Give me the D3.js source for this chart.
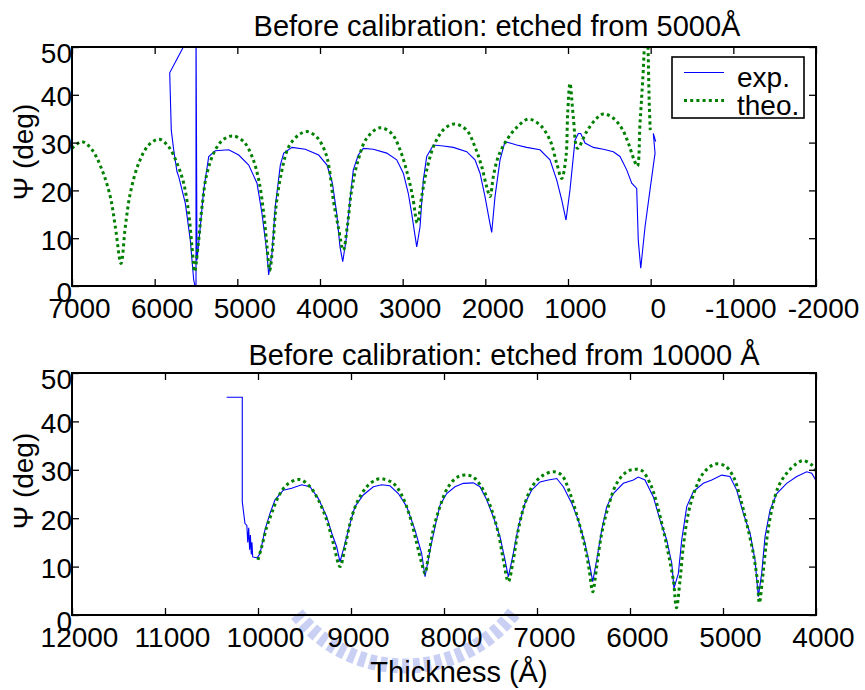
<!DOCTYPE html>
<html>
<head>
<meta charset="utf-8">
<script src="https://cdn.jsdelivr.net/npm/d3@7"></script>
<style>
  body { margin: 0; background: #fff; }
  svg { display: block; }
</style>
</head>
<body>
<script>
// Psi vs thickness, before calibration, two etch runs

// ---- top panel: etched from 5000 A ----
var topExpThk = [5470, 5818, 5799, 5770, 5730, 5709, 5629, 5569, 5528, 5500, 5500, 5488, 5448, 5407, 5346, 5266, 5104, 4983, 4862, 4762,
  4702, 4641, 4621, 4581, 4541, 4480, 4439, 4339, 4178, 4016, 3915, 3850, 3798, 3758, 3725, 3685, 3637, 3597, 3537, 3476,
  3355, 3193, 3072, 2992, 2932, 2891, 2830, 2790, 2750, 2709, 2629, 2508, 2387, 2225, 2125, 2064, 2004, 1952, 1923, 1883,
  1822, 1762, 1702, 1620, 1500, 1339, 1218, 1137, 1076, 1024, 976, 915, 875, 846, 794, 694, 573, 452, 371, 290,
  229, 169, 150, 120, 68, 8, -53, -32, -61];
var topExpPsi = [56, 44.6, 32.6, 28.5, 23.9, 22.9, 17.3, 9.6, 1.3, -1, 56, 5.4, 12.4, 20.1, 27.1, 28.3, 28.5, 27.4, 25.3, 21.5,
  15.2, 6.8, 2.3, 6.8, 16.6, 25.3, 27.8, 29.0, 28.6, 27.4, 25.3, 21.5, 15.2, 8.2, 5.1, 9.6, 18.0, 24.3, 27.4, 28.8,
  28.6, 27.8, 26.4, 23.6, 19.4, 15.2, 8.2, 12.4, 22.2, 27.1, 29.5, 29.3, 29.0, 28.1, 26.4, 23.6, 18.7, 13.8, 11.2, 18.7,
  26.4, 30.2, 29.9, 29.5, 29.0, 28.5, 26.4, 22.2, 18.0, 13.8, 20.1, 30.5, 31.9, 31.9, 29.9, 29.0, 28.6, 28.1, 27.1, 24.3,
  21.5, 20.4, 9.6, 3.7, 12.4, 20.1, 27.8, 31.9, 30.2];

var topTheoThk = [7000, 6879, 6758, 6637, 6537, 6476, 6407, 6355, 6295, 6193, 6072, 5944, 5830, 5730, 5649, 5588, 5548, 5516, 5476, 5427,
  5367, 5266, 5165, 5052, 4923, 4822, 4741, 4681, 4641, 4609, 4572, 4532, 4468, 4379, 4258, 4157, 4036, 3936, 3890, 3839,
  3779, 3718, 3670, 3617, 3537, 3435, 3274, 3133, 3032, 2944, 2879, 2823, 2770, 2709, 2609, 2488, 2367, 2226, 2125, 2044,
  1984, 1943, 1903, 1843, 1742, 1620, 1480, 1339, 1218, 1137, 1076, 1024, 1004, 976, 936, 885, 774, 673, 573, 452,
  350, 270, 201, 161, 129, 96, 50, 16, 5];
var topTheoPsi = [28.8, 30.2, 28.5, 24.3, 18.7, 12.4, 4.7, 12.4, 19.4, 25.7, 29.5, 30.7, 29.1, 25.7, 21.5, 15.2, 8.2, 3.0, 8.2, 16.6,
  23.6, 28.5, 30.7, 31.4, 30.2, 27.1, 22.2, 15.2, 8.2, 3.3, 8.2, 16.6, 23.6, 29.1, 31.6, 32.3, 31.1, 28.0, 24.8, 18.0,
  12.4, 7.5, 12.4, 20.1, 26.4, 30.9, 33.1, 31.9, 28.5, 23.6, 18.7, 13.2, 18.7, 24.3, 29.9, 33.0, 33.9, 32.6, 29.1, 25.0,
  20.8, 18.7, 22.9, 27.1, 30.5, 33.2, 34.9, 33.7, 30.5, 25.7, 22.5, 27.1, 36.1, 42.4, 35.4, 28.8, 32.3, 34.7, 36.0, 35.1,
  33.0, 29.9, 26.4, 25.1, 34.0, 43.1, 57, 37.5, 32.6];

var topXTicks = [7000, 6000, 5000, 4000, 3000, 2000, 1000, 0, -1000, -2000];

// ---- bottom panel: etched from 10000 A ----
var botExpThk = [10337, 10169, 10169, 10140, 10120, 10110, 10100, 10090, 10082, 10072, 10065, 10057, 10010, 9978, 9925, 9871, 9817, 9728, 9638, 9530,
  9441, 9352, 9261, 9207, 9154, 9118, 9064, 9011, 8957, 8868, 8760, 8670, 8581, 8491, 8401, 8312, 8240, 8204, 8150, 8097,
  8043, 7971, 7882, 7792, 7685, 7613, 7541, 7470, 7398, 7344, 7308, 7255, 7201, 7129, 7057, 6968, 6878, 6788, 6717, 6627,
  6556, 6484, 6430, 6401, 6358, 6304, 6250, 6179, 6072, 5964, 5911, 5839, 5749, 5677, 5605, 5551, 5527, 5480, 5444, 5390,
  5319, 5212, 5121, 5014, 4925, 4853, 4781, 4709, 4656, 4620, 4584, 4548, 4494, 4422, 4315, 4207, 4100, 4046, 3992];
var botExpPsi = [45.0, 45.0, 23.4, 18.9, 18.5, 15.0, 18.0, 13.5, 16.5, 12.5, 15.0, 12.0, 11.8, 12.7, 17.6, 21.0, 23.8, 25.8, 26.2, 26.9,
  26.5, 24.1, 20.3, 16.9, 14.1, 11.0, 14.8, 18.9, 22.4, 24.8, 26.5, 26.9, 26.7, 25.1, 22.4, 17.6, 12.7, 7.9, 13.4, 18.2,
  22.7, 25.1, 26.5, 27.2, 27.3, 26.5, 23.8, 20.3, 16.2, 11.4, 7.9, 12.7, 18.2, 23.1, 25.8, 27.5, 27.9, 28.2, 26.5, 23.1,
  19.6, 14.8, 10.0, 6.9, 11.4, 17.6, 22.4, 25.1, 27.2, 27.9, 28.5, 27.9, 24.4, 19.6, 15.5, 10.7, 5.5, 8.6, 15.5, 22.4,
  25.5, 27.2, 27.9, 28.9, 28.6, 25.8, 21.0, 16.9, 11.4, 3.8, 8.6, 16.2, 21.7, 25.1, 27.2, 28.6, 29.6, 29.3, 27.5];

var botTheoThk = [10000, 9960, 9906, 9853, 9782, 9691, 9555, 9441, 9352, 9261, 9190, 9118, 9064, 9011, 8939, 8831, 8724, 8653, 8545, 8455,
  8366, 8293, 8240, 8204, 8169, 8115, 8043, 7954, 7846, 7739, 7667, 7577, 7487, 7416, 7362, 7308, 7255, 7201, 7129, 7040,
  6932, 6825, 6734, 6645, 6556, 6484, 6438, 6401, 6358, 6304, 6233, 6143, 6035, 5946, 5870, 5775, 5713, 5642, 5588, 5534,
  5500, 5462, 5427, 5373, 5301, 5212, 5086, 4978, 4889, 4817, 4745, 4674, 4631, 4609, 4573, 4530, 4476, 4405, 4315, 4207,
  4136, 4046, 3992];
var botTheoPsi = [11.4, 14.1, 18.2, 21.0, 24.4, 26.9, 28.0, 26.5, 23.8, 19.6, 14.8, 10.0, 14.1, 18.9, 23.1, 26.5, 28.0, 28.1, 27.2, 24.8,
  20.3, 14.8, 10.7, 8.6, 12.0, 17.6, 22.4, 26.5, 28.6, 28.9, 28.2, 25.8, 21.7, 16.9, 11.4, 6.9, 11.4, 17.6, 23.1, 26.9,
  28.9, 29.6, 28.9, 25.1, 19.6, 14.1, 9.3, 4.8, 10.0, 16.9, 22.4, 27.2, 29.6, 30.1, 29.8, 26.8, 23.1, 17.6, 12.7, 7.2,
  1.5, 7.2, 14.1, 21.0, 25.8, 29.3, 31.2, 30.8, 28.6, 24.4, 18.9, 12.7, 7.2, 2.5, 7.9, 15.5, 21.7, 26.5, 29.3, 31.3,
  31.9, 31.0, 29.6];

var botXTicks = [12000, 11000, 10000, 9000, 8000, 7000, 6000, 5000, 4000];

var yTicks = [0, 10, 20, 30, 40, 50];
var titles = ["Before calibration: etched from 5000\u00C5", "Before calibration: etched from 10000 \u00C5"];
var yLabel = "\u03A8 (deg)";
var xLabel = "Thickness (\u00C5)";
var legendLabels = ["exp.", "theo."];

var FONT = "Arial, 'Liberation Sans', Helvetica, sans-serif";
var BLUE = "#0000ff", GREEN = "#008000";

var zip = function (a, b) { return a.map(function (v, i) { return [v, b[i]]; }); };

var panels = [
  { box: {left: 72, right: 816, top: 47, bottom: 286}, xDomain: [7000, -2000], xTicks: topXTicks,
    exp: zip(topExpThk, topExpPsi), theo: zip(topTheoThk, topTheoPsi),
    title: titles[0], titleX: 497, titleY: 36, yLabelY: 152, legend: true },
  { box: {left: 72, right: 816, top: 373, bottom: 615}, xDomain: [12000, 4000], xTicks: botXTicks,
    exp: zip(botExpThk, botExpPsi), theo: zip(botTheoThk, botTheoPsi),
    title: titles[1], titleX: 504, titleY: 365, yLabelY: 481, legend: false }
];

var svg = d3.select("body").append("svg")
  .attr("width", 865)
  .attr("height", 690)
  .style("background", "#fff");

// faint logo watermark behind the lower axis labels
svg.append("path")
  .attr("d", "M297,614 A138,138 0 0 0 513.7,613")
  .attr("fill", "none")
  .attr("stroke", "#b3bcef")
  .attr("stroke-width", 15)
  .attr("stroke-dasharray", "7,4")
  .attr("opacity", 0.7);

panels.forEach(function (p, i) {
  var b = p.box;
  var xScale = d3.scaleLinear().domain(p.xDomain).range([b.left, b.right]);
  var yScale = d3.scaleLinear().domain([0, 50]).range([b.bottom, b.top]);

  var g = svg.append("g");

  g.append("clipPath").attr("id", "clip" + i)
    .append("rect")
    .attr("x", b.left).attr("y", b.top)
    .attr("width", b.right - b.left).attr("height", b.bottom - b.top);

  var plot = g.append("g").attr("clip-path", "url(#clip" + i + ")");

  var expLine = d3.line()
    .x(function (d) { return xScale(d[0]); })
    .y(function (d) { return yScale(d[1]); });

  var theoLine = d3.line()
    .x(function (d) { return xScale(d[0]); })
    .y(function (d) { return yScale(d[1]); })
    .curve(d3.curveCatmullRom.alpha(0.5));

  plot.append("path")
    .attr("d", expLine(p.exp))
    .attr("fill", "none")
    .attr("stroke", BLUE)
    .attr("stroke-width", 1.1);

  plot.append("path")
    .attr("d", theoLine(p.theo))
    .attr("fill", "none")
    .attr("stroke", GREEN)
    .attr("stroke-width", 3)
    .attr("stroke-dasharray", "3,3.2");

  // axes, ticks pointing inwards on all four sides
  var bottomAxis = g.append("g")
    .attr("transform", "translate(0," + b.bottom + ")")
    .call(d3.axisBottom(xScale).tickValues(p.xTicks).tickSize(-7).tickPadding(12)
      .tickFormat(function (d) { return String(d); }));
  bottomAxis.selectAll("text").attr("dx", 7);

  var leftAxis = g.append("g")
    .attr("transform", "translate(" + b.left + ",0)")
    .call(d3.axisLeft(yScale).tickValues(yTicks).tickSize(-7).tickPadding(0));
  leftAxis.selectAll("text")
    .attr("dy", null)
    .attr("y", function (d) { return (d === 0 || d === 50) ? 15 : 11; });

  g.append("g")
    .attr("transform", "translate(0," + b.top + ")")
    .call(d3.axisTop(xScale).tickValues(p.xTicks).tickSize(-7).tickFormat(function () { return ""; }));
  g.append("g")
    .attr("transform", "translate(" + b.right + ",0)")
    .call(d3.axisRight(yScale).tickValues(yTicks).tickSize(-7).tickFormat(function () { return ""; }));

  g.selectAll(".domain").remove();
  g.selectAll(".tick line").attr("stroke", "#000").attr("stroke-width", 1.3);
  g.selectAll(".tick text")
    .attr("font-family", FONT)
    .attr("font-size", 28)
    .attr("fill", "#000");

  g.append("rect")
    .attr("x", b.left).attr("y", b.top)
    .attr("width", b.right - b.left).attr("height", b.bottom - b.top)
    .attr("fill", "none")
    .attr("stroke", "#000")
    .attr("stroke-width", 2);

  g.append("text")
    .attr("x", p.titleX).attr("y", p.titleY)
    .attr("text-anchor", "middle")
    .attr("font-family", FONT).attr("font-size", 29)
    .text(p.title);

  g.append("text")
    .attr("transform", "translate(33," + p.yLabelY + ") rotate(-90)")
    .attr("text-anchor", "middle")
    .attr("font-family", FONT).attr("font-size", 28)
    .text(yLabel);

  if (p.legend) {
    var lg = g.append("g");
    lg.append("rect")
      .attr("x", 672).attr("y", 57).attr("width", 132).attr("height", 61)
      .attr("fill", "#fff").attr("stroke", "#000").attr("stroke-width", 1.6);
    var styles = [{c: BLUE, w: 1.1, dash: null}, {c: GREEN, w: 3, dash: "3,3.2"}];
    legendLabels.forEach(function (lab, k) {
      var ly = 72.5 + k * 28;
      lg.append("line")
        .attr("x1", 684).attr("x2", 724).attr("y1", ly).attr("y2", ly)
        .attr("stroke", styles[k].c).attr("stroke-width", styles[k].w)
        .attr("stroke-dasharray", styles[k].dash);
      lg.append("text")
        .attr("x", 737).attr("y", ly + 14.5)
        .attr("font-family", FONT).attr("font-size", 28)
        .text(lab);
    });
  }
});

svg.append("text")
  .attr("x", 459).attr("y", 682)
  .attr("text-anchor", "middle")
  .attr("font-family", FONT).attr("font-size", 29)
  .text(xLabel);
</script>
</body>
</html>
